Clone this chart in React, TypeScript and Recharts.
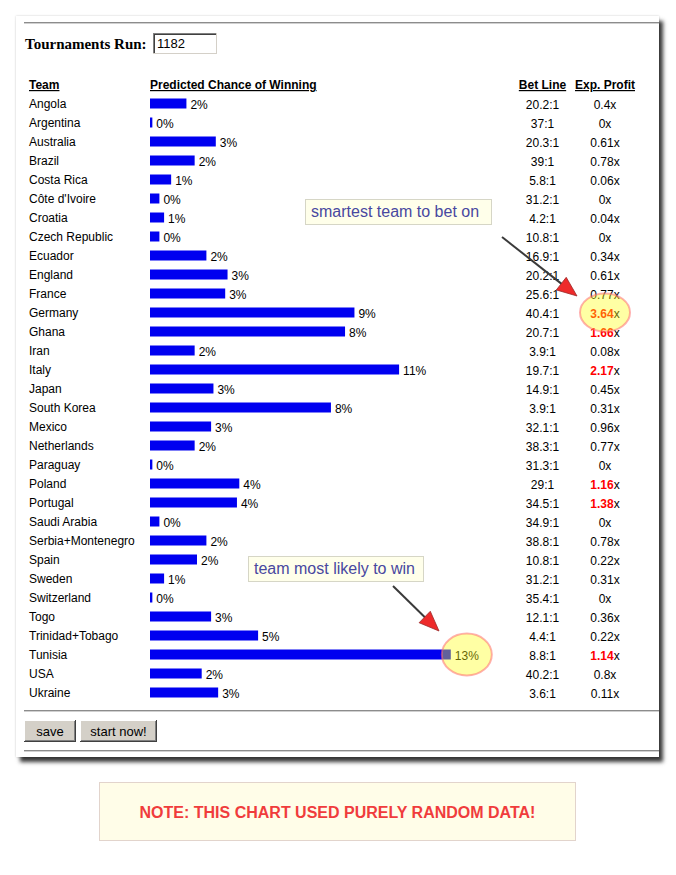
import React from 'react';
import { BarChart, Bar, XAxis, YAxis, LabelList } from 'recharts';

const teams = [
  'Angola', 'Argentina', 'Australia', 'Brazil', 'Costa Rica', "Côte d'Ivoire", 'Croatia', 'Czech Republic',
  'Ecuador', 'England', 'France', 'Germany', 'Ghana', 'Iran', 'Italy', 'Japan', 'South Korea', 'Mexico',
  'Netherlands', 'Paraguay', 'Poland', 'Portugal', 'Saudi Arabia', 'Serbia+Montenegro', 'Spain', 'Sweden',
  'Switzerland', 'Togo', 'Trinidad+Tobago', 'Tunisia', 'USA', 'Ukraine',
];
// predicted chance of winning, percent
const chances = [
  1.55, 0.1, 2.8, 1.9, 0.9, 0.4, 0.6, 0.4, 2.4, 3.3, 3.2, 8.7, 8.3, 1.9, 10.6, 2.7, 7.7, 2.6,
  1.9, 0.1, 3.8, 3.7, 0.4, 2.4, 2.0, 0.6, 0.1, 2.6, 4.6, 12.8, 2.2, 2.9,
];
// bet line odds (x:1)
const betLines = [
  20.2, 37, 20.3, 39, 5.8, 31.2, 4.2, 10.8, 16.9, 20.2, 25.6, 40.4, 20.7, 3.9, 19.7, 14.9, 3.9, 32.1,
  38.3, 31.3, 29, 34.5, 34.9, 38.8, 10.8, 31.2, 35.4, 12.1, 4.4, 8.8, 40.2, 3.6,
];
// expected profit multiple
const expProfits = [
  0.4, 0, 0.61, 0.78, 0.06, 0, 0.04, 0, 0.34, 0.61, 0.77, 3.64, 1.66, 0.08, 2.17, 0.45, 0.31, 0.96,
  0.77, 0, 1.16, 1.38, 0, 0.78, 0.22, 0.31, 0, 0.36, 0.22, 1.14, 0.8, 0.11,
];
const tournamentsRun = 1182;
const headers = ['Team', 'Predicted Chance of Winning', 'Bet Line', 'Exp. Profit'];
const callouts = ['smartest team to bet on', 'team most likely to win'];
const note = 'NOTE: THIS CHART USED PURELY RANDOM DATA!';
const buttons = ['save', 'start now!'];

const data = teams.map((team, i) => ({ team, chance: chances[i], bet: betLines[i], profit: expProfits[i] }));
const maxChanceIdx = chances.indexOf(Math.max(...chances));
const maxProfitIdx = expProfits.indexOf(Math.max(...expProfits));

const SANS = "'Liberation Sans', Arial, Helvetica, sans-serif";
const SERIF = "'Liberation Serif', 'Times New Roman', serif";

const BET_X = 542.5;
const PROFIT_X = 605;

const TeamTick = (props: any) => {
  const { y, payload } = props;
  return (
    <text x={29} y={y + 5} fontFamily={SANS} fontSize={12} fill="#000">
      {payload.value}
    </text>
  );
};

const PctLabel = (props: any) => {
  const { x, y, width, height, value } = props;
  return (
    <text x={x + width + 4} y={y + height / 2 + 5} fontFamily={SANS} fontSize={12} fill="#000">
      {`${Math.round(Number(value))}%`}
    </text>
  );
};

const ColumnsLabel = (props: any) => {
  const { y, height, index } = props;
  const cy = y + height / 2 + 5;
  const p = expProfits[index];
  const hot = p > 1;
  return (
    <g>
      <text x={BET_X} y={cy} textAnchor="middle" fontFamily={SANS} fontSize={12} fill="#000">
        {`${betLines[index]}:1`}
      </text>
      <text x={PROFIT_X} y={cy} textAnchor="middle" fontFamily={SANS} fontSize={12} fill="#000">
        <tspan fill={hot ? '#ff0000' : '#000'} fontWeight={hot ? 'bold' : 'normal'}>{`${p}`}</tspan>
        <tspan>x</tspan>
      </text>
    </g>
  );
};

const HighlightLabel = (props: any) => {
  const { x, y, width, height, index } = props;
  const cy = y + height / 2;
  const els: any[] = [];
  if (index === maxChanceIdx) {
    els.push(
      <ellipse key="c" cx={x + width + 16} cy={cy} rx={25} ry={21} fill="#ffff10" fillOpacity={0.38}
        stroke="#ff7070" strokeOpacity={0.55} strokeWidth={2} />
    );
  }
  if (index === maxProfitIdx) {
    els.push(
      <ellipse key="p" cx={PROFIT_X} cy={cy} rx={25} ry={19} fill="#ffff10" fillOpacity={0.38}
        stroke="#ff7070" strokeOpacity={0.55} strokeWidth={2} />
    );
  }
  return <g>{els}</g>;
};

const Arrow = ({ x1, y1, x2, y2 }: { x1: number; y1: number; x2: number; y2: number }) => {
  const dx = x2 - x1;
  const dy = y2 - y1;
  const len = Math.sqrt(dx * dx + dy * dy);
  const ux = dx / len;
  const uy = dy / len;
  const hl = 20;
  const hw = 8;
  const bx = x2 - ux * hl;
  const by = y2 - uy * hl;
  const pts = `${x2},${y2} ${bx - uy * hw},${by + ux * hw} ${bx + uy * hw},${by - ux * hw}`;
  return (
    <g>
      <line x1={x1} y1={y1} x2={bx + ux * 2} y2={by + uy * 2} stroke="#3a3a3a" strokeWidth={2} />
      <polygon points={pts} fill="#ee2a2a" stroke="#9a2a2a" strokeWidth={0.8} />
    </g>
  );
};

const Hr = ({ y }: { y: number }) => (
  <g>
    <line x1={24} x2={659} y1={y} y2={y} stroke="#8c8c8c" strokeWidth={1} />
    <line x1={24} x2={659} y1={y + 1} y2={y + 1} stroke="#d0d0d0" strokeWidth={1} />
  </g>
);

const Button = ({ x, w, label }: { x: number; w: number; label: string }) => (
  <g>
    <rect x={x} y={720} width={w} height={22} fill="#d4d0c8" />
    <line x1={x} y1={720.5} x2={x + w} y2={720.5} stroke="#ffffff" />
    <line x1={x + 0.5} y1={720} x2={x + 0.5} y2={742} stroke="#ffffff" />
    <line x1={x} y1={741.5} x2={x + w} y2={741.5} stroke="#404040" />
    <line x1={x + w - 0.5} y1={720} x2={x + w - 0.5} y2={742} stroke="#404040" />
    <line x1={x + 1} y1={740.5} x2={x + w - 1} y2={740.5} stroke="#808080" />
    <line x1={x + w - 1.5} y1={721} x2={x + w - 1.5} y2={741} stroke="#808080" />
    <text x={x + w / 2} y={736} textAnchor="middle" fontFamily={SANS} fontSize={13} fill="#000">{label}</text>
  </g>
);

export default function App() {
  return (
    <div style={{ position: 'absolute', left: 0, top: 0, width: 676, height: 875, background: '#fff', overflow: 'hidden' }}>
      <div
        style={{
          position: 'absolute', left: 16, top: 16, width: 643, height: 741, background: '#fff',
          boxShadow: '4px 5px 4px rgba(0,0,0,0.78), 0px 0px 2px rgba(0,0,0,0.2)',
        }}
      />
      <svg width={676} height={875} style={{ position: 'absolute', left: 0, top: 0 }}>
        <Hr y={22.5} />
        <text x={25} y={49} fontFamily={SERIF} fontWeight="bold" fontSize={15} fill="#000">Tournaments Run:</text>
        <rect x={153} y={33} width={64} height={21} fill="#fff" />
        <line x1={153} y1={33.5} x2={217} y2={33.5} stroke="#808080" />
        <line x1={153.5} y1={33} x2={153.5} y2={54} stroke="#808080" />
        <line x1={154} y1={34.5} x2={216} y2={34.5} stroke="#404040" />
        <line x1={154.5} y1={34} x2={154.5} y2={53} stroke="#404040" />
        <line x1={153} y1={53.5} x2={217} y2={53.5} stroke="#d4d0c8" />
        <line x1={216.5} y1={33} x2={216.5} y2={54} stroke="#d4d0c8" />
        <text x={157} y={48} fontFamily={SANS} fontSize={13} fill="#000">{tournamentsRun}</text>

        <text x={29} y={89} fontFamily={SANS} fontSize={12} fontWeight="bold" fill="#000" style={{ textDecoration: 'underline' }}>{headers[0]}</text>
        <text x={150} y={89} fontFamily={SANS} fontSize={12} fontWeight="bold" fill="#000" style={{ textDecoration: 'underline' }}>{headers[1]}</text>
        <text x={BET_X} y={89} textAnchor="middle" fontFamily={SANS} fontSize={12} fontWeight="bold" fill="#000" style={{ textDecoration: 'underline' }}>{headers[2]}</text>
        <text x={PROFIT_X} y={89} textAnchor="middle" fontFamily={SANS} fontSize={12} fontWeight="bold" fill="#000" style={{ textDecoration: 'underline' }}>{headers[3]}</text>

        <Hr y={710.5} />
        <Button x={24} w={52} label={buttons[0]} />
        <Button x={80} w={77} label={buttons[1]} />
        <Hr y={750.5} />

        <rect x={99.5} y={782.5} width={476} height={58} fill="#fffde8" stroke="#e2d4cc" />
        <text x={337.5} y={818} textAnchor="middle" fontFamily={SANS} fontWeight="bold" fontSize={16} fill="#f03c3c">{note}</text>
      </svg>

      <div style={{ position: 'absolute', left: 0, top: 0 }}>
        <BarChart
          width={676}
          height={875}
          data={data}
          layout="vertical"
          margin={{ top: 93.5, bottom: 173.5, left: 29, right: 173.5 }}
        >
          <XAxis type="number" domain={[0, 15]} hide />
          <YAxis
            type="category"
            dataKey="team"
            width={121}
            interval={0}
            axisLine={false}
            tickLine={false}
            tick={<TeamTick />}
          />
          <Bar dataKey="chance" fill="#0000f0" barSize={10} isAnimationActive={false}>
            <LabelList dataKey="chance" content={<PctLabel />} />
            <LabelList dataKey="bet" content={<ColumnsLabel />} />
            <LabelList dataKey="profit" content={<HighlightLabel />} />
          </Bar>
        </BarChart>
      </div>

      <svg width={676} height={875} style={{ position: 'absolute', left: 0, top: 0, pointerEvents: 'none' }}>
        <rect x={305.5} y={199.5} width={186} height={25} fill="#ffffea" stroke="#d6d6c6" />
        <text x={311} y={217} fontFamily={SANS} fontSize={16} fill="#4848a0">{callouts[0]}</text>
        <Arrow x1={502} y1={237} x2={577} y2={296} />

        <rect x={248.5} y={556.5} width={175} height={25} fill="#ffffea" stroke="#d6d6c6" />
        <text x={254} y={574} fontFamily={SANS} fontSize={16} fill="#4848a0">{callouts[1]}</text>
        <Arrow x1={393} y1={586} x2={439} y2={631} />
      </svg>
    </div>
  );
}
